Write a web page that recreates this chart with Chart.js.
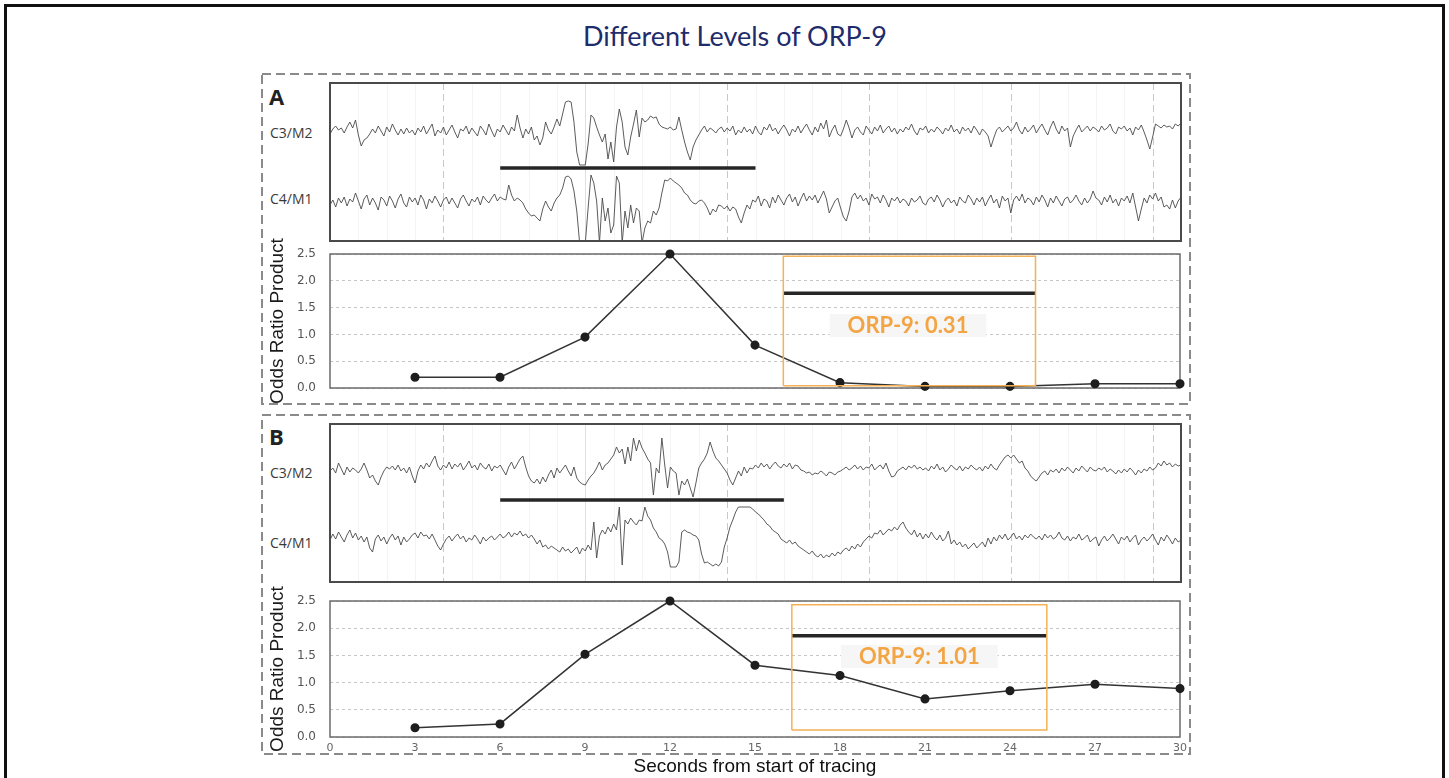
<!DOCTYPE html>
<html>
<head>
<meta charset="utf-8">
<title>Different Levels of ORP-9</title>
<script src="https://cdn.jsdelivr.net/npm/chart.js@4.4.1/dist/chart.umd.min.js"></script>
<style>
  html, body { margin: 0; padding: 0; background: #fff; overflow: hidden; }
  #page { position: relative; width: 1449px; height: 778px; }
  .abs { position: absolute; }
  #outer { left: 4px; top: 4px; width: 1441px; height: 800px; border: 3px solid #111; box-sizing: border-box; }
  #title { left: 435px; width: 600px; top: 19px; line-height: 32px; text-align: center; font: 27px Lato, "Open Sans", sans-serif; color: #1f2c6c; }
  .panel { font: bold 22px "Open Sans", Arial, sans-serif; color: #222; line-height: 24px; }
  .lead { font: 14px "Open Sans", Arial, sans-serif; color: #3a3a3a; line-height: 16px; }
  .eegbox { border: 2px solid #4a4a4a; box-sizing: border-box; pointer-events: none; }
</style>
</head>
<body>
<div id="page">
  <div id="outer" class="abs"></div>
  <div id="title" class="abs">Different Levels of ORP-9</div>
  <svg class="abs" style="left:0;top:0" width="1449" height="778">
    <rect x="262" y="74" width="928" height="330" fill="none" stroke="#8a8a8a" stroke-width="2" stroke-dasharray="9 5"/>
    <rect x="262" y="415" width="928" height="339" fill="none" stroke="#8a8a8a" stroke-width="2" stroke-dasharray="9 5"/>
  </svg>

  <div class="abs panel" style="left:269px;top:84px">A</div>
  <div class="abs lead" style="left:270px;top:125px">C3/M2</div>
  <div class="abs lead" style="left:270px;top:191px">C4/M1</div>
  <canvas id="eegA" class="abs" style="left:330px;top:83px" width="851" height="158"></canvas>
  <div class="abs eegbox" style="left:329px;top:82px;width:853px;height:160px"></div>
  <canvas id="orpA" class="abs" style="left:262px;top:234px" width="928" height="170"></canvas>

  <div class="abs panel" style="left:269px;top:424px">B</div>
  <div class="abs lead" style="left:270px;top:465px">C3/M2</div>
  <div class="abs lead" style="left:270px;top:535px">C4/M1</div>
  <canvas id="eegB" class="abs" style="left:330px;top:424px" width="851" height="158"></canvas>
  <div class="abs eegbox" style="left:329px;top:423px;width:853px;height:160px"></div>
  <canvas id="orpB" class="abs" style="left:262px;top:582px" width="928" height="196"></canvas>
</div>

<script>
// ORP values every 3 s
const orpSeconds = [3, 6, 9, 12, 15, 18, 21, 24, 27, 30];
const orpA = [0.20, 0.20, 0.95, 2.50, 0.80, 0.10, 0.03, 0.03, 0.08, 0.08];
const orpB = [0.17, 0.24, 1.52, 2.50, 1.32, 1.13, 0.70, 0.85, 0.97, 0.89];
const orpTicks = [0, 3, 6, 9, 12, 15, 18, 21, 24, 27, 30];

// scored windows (seconds) and their ORP-9 values
const windowA = [16.0, 24.9];
const windowB = [16.3, 25.3];
const orp9A = 'ORP-9: 0.31';
const orp9B = 'ORP-9: 1.01';

// arousal bars on the EEG (seconds)
const arousalA = [6, 15];
const arousalB = [6, 16];

// EEG traces, one sample every 0.1 s (deflection, up = positive)
const c3A = [
  -2, 3, 6, 2, 4, -1, 5, 10, 4, 12,
  -3, -14, -8, -6, -2, 3, -1, 6, 1, -4,
  5, 0, 8, 2, -3, 3, -2, 4, -1, 2,
  -3, 4, 0, 6, -2, 3, 8, -4, 2, -1,
  5, -3, 2, 7, 0, -6, 3, 1, 6, -2,
  4, 0, -4, 6, 2, -3, 8, 1, -5, 3,
  0, 7, 2, -3, 5, 1, 17, 4, -6, 3,
  -2, 5, -8, -4, -13, -6, 10, 2, -2, 5,
  13, 6, 18, 30, 31, 30, 10, -20, -33, -33,
  -33, -12, 17, 14, 5, -3, -10, -2, -27, -10,
  -30, 5, 23, 10, -15, -23, -5, 8, 22, -5,
  14, 10, 12, 16, 14, 15, 8, 5, 4, 3,
  5, 2, 3, 15, 2, -10, -20, -28, -15, -8,
  -3, 2, 6, 0, 4, 2, -1, 3, 5, 0,
  4, 1, 6, -3, 2, -1, 5, 0, 3, -2,
  6, 0, -3, 5, 2, 8, 1, 4, -2, 3,
  7, 2, -4, 3, 0, 6, -1, 4, 8, 2,
  -3, 5, 0, 9, 3, 12, -5, 2, 7, -2,
  -4, 3, 12, 4, -6, 2, 5, 0, -3, 6,
  2, -2, 5, 1, 7, -1, 3, 6, 0, 4,
  -2, 3, 0, 5, 2, 8, 1, -3, 4, 2,
  6, -1, 3, 0, 5, 2, -2, 4, 1, 7,
  0, 3, -2, 5, 1, 4, -1, 6, 2, -3,
  3, 0, -4, -15, -6, 2, 5, 0, 3, 6,
  1, 4, 10, 2, -2, 5, 0, 3, 7, -1,
  4, 8, 2, -3, 5, 11, 3, -2, 6, 1,
  4, -15, -4, 2, 7, 0, 3, 6, 1, 5,
  3, 0, 6, 2, 4, 8, 1, -2, 5, 3,
  6, 1, 4, -3, 5, 2, 7, 0, -8, -17,
  -5, 8, 6, 4, 7, 5, 6, 3, 8, 6,
  9
];
const c4A = [
  -2, 3, -4, 5, 0, 6, -3, 4, 1, 10,
  2, -6, 4, 8, -2, 5, 0, -7, 6, 3,
  -3, 7, 2, -5, 4, 9, 0, -4, 6, 1,
  5, -2, 8, 3, -6, 4, 0, 7, 2, -4,
  3, 6, -1, 5, 0, -5, 4, 8, 2, -3,
  4, 1, 6, -2, 7, 3, 0, 5, 9, 2,
  6, 4, 3, 18, 8, 2, 5, 3, 0, -6,
  -10, -13, -12, -15, -18, -6, 2, -4, -8, 0,
  5, 8, 15, 26, 27, 24, 12, -8, -40, -40,
  -40, -5, 28, 20, 2, -40, 5, -18, -5, -30,
  -22, 27, 20, -40, -8, -25, -2, -20, -5, -8,
  -40, -25, -18, -20, -8, -12, -5, 10, 23, 22,
  25, 22, 20, 18, 15, 10, 8, 3, 0, -1,
  2, 3, 0, -5, -12, -6, -9, -2, -3, -6,
  -3, -8, -4, -6, -14, -20, -10, -2, -6, 3,
  1, 7, -3, 4, 2, -5, 6, 0, 8, 3,
  -2, 5, 9, 1, 6, -3, 4, 10, 2, 7,
  3, 8, 0, 6, 12, 4, -10, -4, 2, 5,
  -5, -14, -18, -8, 6, 10, 4, 8, 2, 5,
  -2, 9, 4, 6, 0, 8, 3, -4, 5, 2,
  6, 0, 4, 2, -3, 5, 1, 3, 7, 0,
  -2, 4, 6, 1, 8, 3, -4, 2, 5, 0,
  3, -3, 6, 2, 0, 8, 4, -2, 5, 1,
  6, -3, 3, 8, 0, 4, -5, 7, 2, 5,
  -10, 3, 7, 2, 9, 0, 5, 3, -2, 6,
  1, 8, 3, -4, 5, 0, 7, 2, -3, 4,
  6, 0, 3, 8, 2, -2, 5, 0, 4, 12,
  5, 3, -2, 6, 1, 8, 0, 4, -3, 5,
  2, 7, 0, 10, -4, -18, -6, 5, 0, 8,
  4, 10, 2, 6, -4, -2, -6, 3, -5, 2,
  6
];
const c3B = [
  2, 5, 0, 10, 4, -2, 6, 1, 5, 3,
  0, 4, 10, 3, -5, -2, -8, -12, -4, 2,
  6, 4, 7, 3, 8, 2, 5, 0, 6, -3,
  -10, 2, 8, 4, 10, 6, 12, 17, 7, 3,
  8, 5, 11, 4, 9, 6, 10, 3, 7, 12,
  5, 8, 3, 10, 6, 4, 9, 2, 7, 5,
  8, 3, -2, 6, 11, 4, 9, 14, 17, 6,
  -3, -8, -10, -6, -11, -4, -9, -2, 3, -5,
  5, 0, 4, 8, 2, -3, 6, -5, -9, -11,
  -12, -7, -3, 0, 5, 11, 3, 8, 10, 14,
  18, 26, 20, 24, 9, 26, 12, 35, 22, 33,
  25, 20, 14, 10, -22, 5, 0, 35, 8, -15,
  6, 2, 0, -22, -8, -12, -6, -15, -24, -10,
  5, 10, 14, 20, 31, 22, 15, 12, 8, 4,
  0, -7, -12, -5, 2, -3, 6, 0, 5, 4,
  8, 5, 10, 6, 9, 4, 8, 11, 7, 5,
  9, 6, 10, 4, 8, 7, 3, 2, 0, 1,
  -2, 0, -1, 2, 0, -3, 1, 0, -2, 1,
  2, 4, 6, 3, 5, 8, 4, 7, 3, 6,
  5, 9, 3, 6, 8, 4, 10, 2, -4, -3,
  2, 4, 6, 3, 7, 5, 8, 4, 6, 3,
  5, 2, 7, 4, 9, 3, 6, 1, 4, 8,
  5, 3, 7, 2, 6, 4, 8, 5, 3, 6,
  2, 7, 4, 9, 5, 3, 8, 12, 16, 18,
  15, 18, 14, 10, 12, 5, 2, -3, -6, -8,
  -4, 0, 2, -2, 3, 1, 4, 0, 5, 2,
  6, 3, 0, 5, 2, 7, 4, 1, 6, 3,
  2, 5, 3, 6, 1, 4, 2, -1, 3, 0,
  4, 1, 5, 2, -2, 3, 0, 4, 2, 6,
  3, 5, 10, 7, 12, 8, 10, 6, 9, 7,
  8
];
const c4B = [
  2, 8, 3, 10, 5, 0, 7, 12, 4, 9,
  2, 6, 0, 5, -6, -10, 3, 7, 1, 5,
  -2, 4, 8, 2, 6, -3, 5, 0, 3, 7,
  9, 4, 10, 6, 7, 3, 8, 2, -4, -8,
  -2, 3, 6, 1, 5, 8, 3, 6, 0, 4,
  2, 7, 3, -2, 5, 1, 4, 6, 2, 5,
  8, 4, 6, 10, 5, 9, 7, 11, 6, 8,
  4, 7, 3, -2, 2, -5, -3, -7, -4, -6,
  -8, -10, -5, -9, -7, -11, -8, -5, -12, -6,
  -9, -3, -8, 20, -16, 6, 12, 8, 15, 10,
  18, 12, 35, -23, 22, 18, 24, 20, 17, 22,
  21, 35, 26, 22, 14, 10, 4, 2, -2, -10,
  -25, -25, -25, -20, 10, 12, 10, 9, 7, 6,
  2, -12, -21, -20, -22, -24, -22, -24, -20, -5,
  4, 15, 22, 30, 35, 35, 35, 35, 35, 33,
  30, 28, 25, 22, 18, 16, 12, 10, 8, 3,
  1, -1, 2, -2, 0, -4, -6, -8, -10, -12,
  -9, -13, -15, -12, -16, -13, -15, -11, -14, -10,
  -12, -8, -6, -9, -4, -7, -2, -5, 0, 3,
  6, 4, 9, 8, 12, 7, 10, 13, 11, 15,
  12, 17, 20, 14, 10, 7, 12, 5, 9, 3,
  8, 4, 10, 5, 2, 7, 1, 4, 11, -2,
  2, -3, 0, -5, -2, -7, -4, -1, -6, -3,
  0, -5, 4, -2, 5, 1, 7, 3, 8, 2,
  5, 9, 3, 6, 2, 7, 4, 8, 5, 3,
  6, 2, 8, 4, 7, 3, 5, 10, 4, 2,
  6, 1, 5, 3, 8, 2, 4, 7, 0, 3,
  5, -4, 2, 6, 1, 4, 8, 3, -2, 5,
  2, 6, 0, 4, 7, -3, 2, 5, 1, 4,
  8, 2, -3, 5, 1, 7, 3, -2, 4, 0,
  2
];

// EEG page grid (seconds)
const eegDashed = [4, 14, 19, 24, 29];
const eegSolid = [9];

const sampleStep = 0.1;
const toPoints = (vals, offset) => vals.map((v, i) => ({ x: Math.round(i * sampleStep * 10) / 10, y: offset + v }));

// vertical grid of the EEG page
const eegGrid = {
  id: 'eegGrid',
  beforeDatasetsDraw(chart) {
    const { ctx, chartArea: a, scales: { x } } = chart;
    ctx.save();
    ctx.lineWidth = 1;
    for (let s = 1; s < 30; s++) {
      const px = Math.round(x.getPixelForValue(s)) + 0.5;
      ctx.beginPath();
      if (eegDashed.includes(s)) { ctx.strokeStyle = '#c8c8c8'; ctx.setLineDash([7, 4]); }
      else if (eegSolid.includes(s)) { ctx.strokeStyle = '#e0e0e0'; ctx.setLineDash([]); }
      else { ctx.strokeStyle = '#f4f4f4'; ctx.setLineDash([]); }
      ctx.moveTo(px, a.top); ctx.lineTo(px, a.bottom);
      ctx.stroke();
    }
    ctx.restore();
  }
};

// frame of the ORP plot and the ORP-9 label
const orpDecor = {
  id: 'orpDecor',
  beforeDatasetsDraw(chart, args, opts) {
    const { ctx, chartArea: a, scales: { x, y } } = chart;
    ctx.save();
    ctx.font = 'bold 22px Lato';
    const w = ctx.measureText(opts.text).width;
    const cx = x.getPixelForValue(opts.x), cy = y.getPixelForValue(opts.y);
    ctx.fillStyle = '#f6f6f6';
    ctx.fillRect(cx - w / 2 - 18, cy - 11, w + 36, 23);
    ctx.fillStyle = '#f3a443';
    ctx.textAlign = 'center';
    ctx.textBaseline = 'middle';
    ctx.fillText(opts.text, cx, cy + 1);
    ctx.strokeStyle = '#6b6b6b';
    ctx.lineWidth = 1.5;
    ctx.strokeRect(a.left, a.top, a.width, a.height);
    ctx.restore();
  }
};

function eegChart(id, c3, c4, c4Offset, bar, barLevel) {
  return new Chart(document.getElementById(id), {
    type: 'line',
    data: {
      datasets: [
        { data: toPoints(c3, 109), borderColor: '#4a4a4a', borderWidth: 0.9, pointRadius: 0, tension: 0 },
        { data: toPoints(c4, c4Offset), borderColor: '#4a4a4a', borderWidth: 0.9, pointRadius: 0, tension: 0 },
        { data: [{ x: bar[0], y: barLevel }, { x: bar[1], y: barLevel }], borderColor: '#262626', borderWidth: 3.5, pointRadius: 0 }
      ]
    },
    options: {
      animation: false,
      responsive: false,
      events: [],
      layout: { padding: 0 },
      scales: {
        x: { type: 'linear', min: 0, max: 30, display: false },
        y: { min: 0, max: 158, display: false }
      },
      plugins: { legend: { display: false }, tooltip: { enabled: false } }
    },
    plugins: [eegGrid]
  });
}

function orpChart(id, values, win, boxY, barLevel, label, labelAt, withAxis) {
  const box = [
    { x: win[0], y: boxY[0] }, { x: win[1], y: boxY[0] },
    { x: win[1], y: boxY[1] }, { x: win[0], y: boxY[1] }, { x: win[0], y: boxY[0] }
  ];
  return new Chart(document.getElementById(id), {
    type: 'line',
    data: {
      datasets: [
        { data: box, borderColor: '#f4b156', borderWidth: 1.5, pointRadius: 0, tension: 0 },
        { data: [{ x: win[0], y: barLevel }, { x: win[1], y: barLevel }], borderColor: '#262626', borderWidth: 3.5, pointRadius: 0 },
        {
          data: orpSeconds.map((s, i) => ({ x: s, y: values[i] })),
          borderColor: '#333', borderWidth: 1.5, tension: 0, clip: false,
          pointRadius: 3.8, pointBackgroundColor: '#1e1e1e', pointBorderColor: '#1e1e1e'
        }
      ]
    },
    options: {
      animation: false,
      responsive: false,
      events: [],
      layout: { padding: { top: withAxis ? 19 : 20, right: 10, left: 0, bottom: 0 } },
      scales: {
        x: {
          type: 'linear', min: 0, max: 30,
          afterFit: s => { s.height = withAxis ? 41 : 16; s.paddingLeft = 0; s.paddingRight = 0; },
          afterBuildTicks: s => { s.ticks = orpTicks.map(v => ({ value: v })); },
          grid: { display: false, drawTicks: false },
          border: { display: false },
          ticks: { display: withAxis, padding: 5, color: '#666', font: { family: 'DejaVu Sans', size: 11 }, maxRotation: 0, autoSkip: false },
          title: { display: withAxis, text: 'Seconds from start of tracing', color: '#111', font: { family: 'Liberation Sans', size: 19 }, padding: { top: 0, bottom: 0 } }
        },
        y: {
          min: 0, max: 2.5,
          afterFit: s => { s.width = 68; s.paddingTop = 0; s.paddingBottom = 0; },
          grid: { color: '#c6c6c6', lineWidth: 1, drawTicks: false },
          border: { display: false, dash: [3, 3] },
          ticks: { stepSize: 0.5, padding: 14, color: '#555', font: { family: 'DejaVu Sans', size: 12 }, callback: v => v.toFixed(1) },
          title: { display: true, text: 'Odds Ratio Product', color: '#1a1a1a', font: { family: 'Liberation Sans', size: 19 }, padding: { top: 4, bottom: 0 } }
        }
      },
      plugins: {
        legend: { display: false },
        tooltip: { enabled: false },
        orpDecor: { text: label, x: labelAt[0], y: labelAt[1] }
      }
    },
    plugins: [orpDecor]
  });
}

eegChart('eegA', c3A, c4A, 38, arousalA, 73);
eegChart('eegB', c3B, c4B, 40, arousalB, 82);
orpChart('orpA', orpA, windowA, [0.04, 2.46], 1.77, orp9A, [20.4, 1.175], false);
orpChart('orpB', orpB, windowB, [0.13, 2.43], 1.86, orp9B, [20.8, 1.49], true);
</script>
</body>
</html>
